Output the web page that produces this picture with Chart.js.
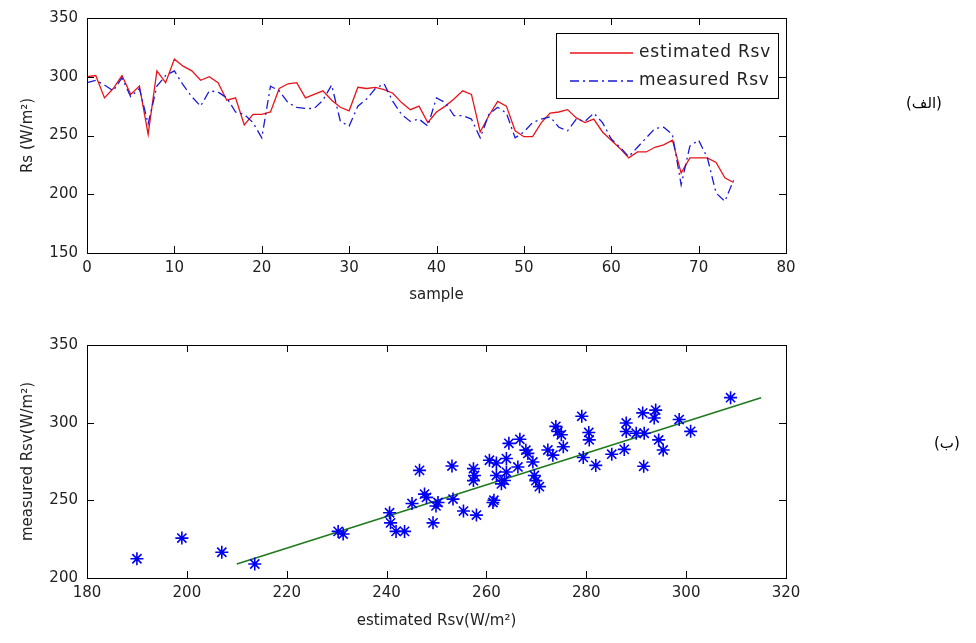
<!DOCTYPE html>
<html>
<head>
<meta charset="utf-8">
<script src="https://cdn.jsdelivr.net/npm/chart.js@4.4.1/dist/chart.umd.min.js"></script>
<style>
  body { margin: 0; background: #fff; }
  #wrap { position: relative; width: 976px; height: 643px; overflow: hidden; }
  #top_plot { position: absolute; left: 0; top: 0; }
  #bottom_plot { position: absolute; left: 0; top: 320px; }
  .tag { position: absolute; font-family: "DejaVu Sans"; font-size: 15px; color: #000; direction: rtl; white-space: nowrap; }
</style>
</head>
<body>
<div id="wrap">
  <canvas id="top_plot" width="976" height="320" style="width:976px;height:320px"></canvas>
  <canvas id="bottom_plot" width="976" height="323" style="width:976px;height:323px"></canvas>
  <div class="tag" style="left:906px;top:94px">(الف)</div>
  <div class="tag" style="left:934px;top:434px">(ب)</div>
</div>
<script>
'use strict';

// top plot: sample by sample
const estimatedRsv = [300, 301, 282, 290, 301, 285, 292, 251, 305, 295,
    315, 309, 305, 297, 300, 295, 280, 282, 259, 268,
    268, 270, 290, 294, 295, 282, 285, 288, 280, 274,
    271, 291, 290, 291, 289, 286, 278, 272, 275, 261,
    270, 275, 281, 288, 285, 253, 267, 279, 275, 254,
    249, 249, 261, 269, 270, 272, 265, 261, 264, 253,
    246, 239, 231, 236, 236, 240, 242, 246, 218, 231,
    231, 231, 227, 214, 210];
const measuredRsv = [295, 297, 293, 288, 299, 283, 290, 260, 292, 301,
    305, 293, 283, 275, 288, 287, 282, 270, 268, 261,
    248, 292, 288, 278, 274, 273, 273, 280, 293, 262,
    258, 275, 281, 290, 294, 279, 268, 262, 264, 258,
    282, 278, 267, 267, 264, 248, 268, 274, 269, 248,
    253, 261, 264, 266, 257, 254, 264, 262, 269, 261,
    247, 240, 232, 240, 248, 256, 257, 251, 208, 241,
    246, 231, 201, 194, 212];

// bottom plot: estimated vs measured
const scatterEst = [190, 199, 207, 213.6, 230.3, 231.3, 240.6, 240.8, 241.9, 243.6,
    245.1, 246.6, 247.6, 248, 249.3, 249.9, 250.3, 253.3, 253.1, 255.4,
    258, 257.4, 257.4, 257.6, 260.6, 261.5, 261.3, 262, 262, 263,
    263.6, 264, 264, 264.5, 266.3, 266.7, 267.9, 268.3, 269.3, 269.6,
    269.9, 270.6, 272.3, 273.3, 273.9, 274.3, 275, 275.4, 279.1, 279.4,
    280.5, 280.6, 281.9, 285.1, 287.6, 288, 288, 290, 291.3, 291.5,
    291.6, 293.6, 293.9, 294.5, 295.4, 298.6, 300.9, 308.9];
const scatterMeas = [212.4, 225.7, 216.6, 209, 230, 228.3, 242, 235.5, 230, 230,
    248, 269.3, 254, 251.9, 235.5, 246.4, 248.6, 250.8, 272.1, 243.1,
    240.5, 270.4, 262.7, 266, 275.8, 250.1, 248.6, 274, 266, 260.6,
    262.8, 276.9, 268.2, 286.7, 271.5, 289.3, 282.3, 280.2, 274.7, 266,
    262.7, 258.8, 282.4, 279.1, 297.6, 294.3, 292.2, 284.5, 304.1, 277.6,
    293.7, 288.9, 272.5, 279.7, 282.8, 299.8, 294.3, 293.2, 306.3, 271.9,
    293.2, 303, 308.1, 288.9, 282.4, 302, 294.4, 316.1];
const fitEst = [210, 315];
const fitMeas = [209, 316];

const FONT = { family: 'DejaVu Sans', size: 15 };
const TXT = '#222';

// box round the axes with inward ticks on all four sides, like matlab
const matlabBox = {
    id: 'matlabBox',
    afterDatasetsDraw(chart) {
        const { ctx, chartArea: a, scales } = chart;
        ctx.save();
        ctx.strokeStyle = '#000';
        ctx.lineWidth = 1;
        ctx.beginPath();
        scales.x.ticks.forEach((t, i) => {
            const px = Math.round(scales.x.getPixelForTick(i)) + 0.5;
            ctx.moveTo(px, a.bottom); ctx.lineTo(px, a.bottom - 7);
            ctx.moveTo(px, a.top); ctx.lineTo(px, a.top + 7);
        });
        scales.y.ticks.forEach((t, i) => {
            const py = Math.round(scales.y.getPixelForTick(i)) + 0.5;
            ctx.moveTo(a.left, py); ctx.lineTo(a.left + 7, py);
            ctx.moveTo(a.right, py); ctx.lineTo(a.right - 7, py);
        });
        ctx.stroke();
        ctx.strokeRect(Math.round(a.left) + 0.5, Math.round(a.top) + 0.5,
            Math.round(a.right - a.left), Math.round(a.bottom - a.top));
        ctx.restore();
    }
};

// legend box in the upper right corner
const boxLegend = {
    id: 'boxLegend',
    afterDraw(chart) {
        const { ctx, chartArea: a } = chart;
        const x0 = a.right - 230, y0 = a.top + 15, w = 222, h = 65;
        ctx.save();
        ctx.fillStyle = '#fff';
        ctx.fillRect(x0, y0, w, h);
        ctx.strokeStyle = '#000';
        ctx.lineWidth = 1;
        ctx.strokeRect(x0 + 0.5, y0 + 0.5, w, h);
        ctx.font = '17px "DejaVu Sans"';
        ctx.textBaseline = 'middle';
        if ('letterSpacing' in ctx) ctx.letterSpacing = '0.8px';
        chart.data.datasets.forEach((ds, i) => {
            const yy = y0 + 20 + i * 28;
            ctx.beginPath();
            ctx.strokeStyle = ds.borderColor;
            ctx.lineWidth = ds.borderWidth;
            ctx.setLineDash(ds.borderDash || []);
            ctx.moveTo(x0 + 14, yy);
            ctx.lineTo(x0 + 77, yy);
            ctx.stroke();
            ctx.setLineDash([]);
            ctx.fillStyle = TXT;
            ctx.fillText(ds.label, x0 + 83, yy);
        });
        ctx.restore();
    }
};

function axisOpts(min, max, step, title, size, titlePad) {
    return {
        type: 'linear',
        min: min,
        max: max,
        ticks: { stepSize: step, color: TXT, font: FONT, padding: 6 },
        grid: { display: false, drawTicks: false },
        border: { display: false },
        title: { display: true, text: title, color: TXT, font: FONT, padding: titlePad },
        afterFit(scale) {
            if (scale.isHorizontal()) scale.height = size; else scale.width = size;
        }
    };
}

const topX = axisOpts(0, 80, 10, 'sample', 67, { top: 0, bottom: 16 });
const topY = axisOpts(150, 350, 50, 'Rs (W/m²)', 87, { top: 19, bottom: 0 });
topY.ticks.padding = 9;

new Chart('top_plot', {
    type: 'line',
    data: {
        datasets: [{
            label: 'estimated Rsv',
            data: estimatedRsv.map((v, i) => ({ x: i, y: v })),
            borderColor: '#e8141b',
            borderWidth: 1.3,
            pointRadius: 0,
            tension: 0,
            order: 1
        }, {
            label: 'measured Rsv',
            data: measuredRsv.map((v, i) => ({ x: i, y: v })),
            borderColor: '#1a1ad6',
            borderWidth: 1.3,
            borderDash: [9, 4, 2, 4],
            pointRadius: 0,
            tension: 0,
            order: 0
        }]
    },
    options: {
        responsive: false,
        animation: false,
        layout: { padding: { top: 17, right: 190, left: 0, bottom: 0 } },
        plugins: { legend: { display: false }, tooltip: { enabled: false } },
        scales: { x: topX, y: topY }
    },
    plugins: [matlabBox, boxLegend]
});

const botX = axisOpts(180, 320, 20, 'estimated Rsv(W/m²)', 65, { top: 0, bottom: 13 });
const botY = axisOpts(200, 350, 50, 'measured Rsv(W/m²)', 87, { top: 19, bottom: 0 });
botY.ticks.padding = 9;

new Chart('bottom_plot', {
    type: 'scatter',
    data: {
        datasets: [{
            label: 'points',
            data: scatterEst.map((v, i) => ({ x: v, y: scatterMeas[i] })),
            pointStyle: 'star',
            pointRadius: 6.5,
            pointBorderWidth: 1.6,
            pointBorderColor: '#0000f0',
            pointBackgroundColor: '#0000f0',
            order: 0
        }, {
            label: 'fit',
            type: 'line',
            data: fitEst.map((v, i) => ({ x: v, y: fitMeas[i] })),
            borderColor: '#1e7a1e',
            borderWidth: 1.6,
            pointRadius: 0,
            order: 1
        }]
    },
    options: {
        responsive: false,
        animation: false,
        layout: { padding: { top: 25, right: 190, left: 0, bottom: 0 } },
        plugins: { legend: { display: false }, tooltip: { enabled: false } },
        scales: { x: botX, y: botY }
    },
    plugins: [matlabBox]
});
</script>
</body>
</html>
